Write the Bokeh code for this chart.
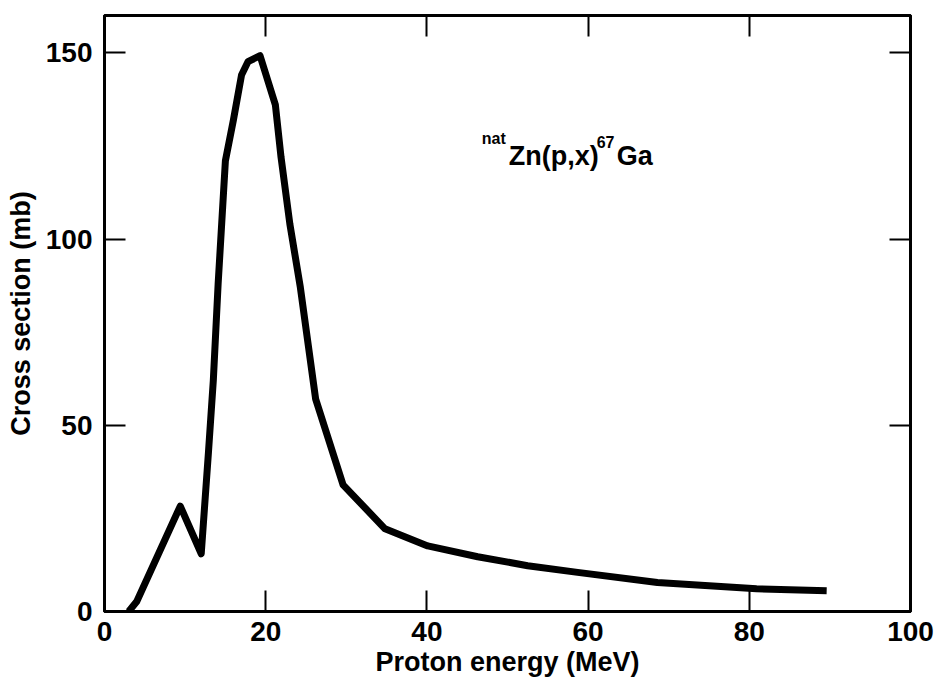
from bokeh.plotting import figure
from bokeh.models import Range1d, LinearAxis, FixedTicker, CustomJSTickFormatter, Label
from bokeh.embed import file_html
from bokeh.resources import INLINE

# Data
energy = [3.0, 4.0, 9.4, 12.0, 12.9, 13.5, 14.1, 15.0, 16.0, 17.0, 17.8, 19.3, 21.2,
          21.9, 23.0, 24.3, 26.2, 29.6, 34.8, 40.1, 46.3, 52.5, 58.7, 68.6, 80.9, 89.6]
cross_section = [0.0, 2.7, 28.3, 15.5, 42.8, 62.0, 88.0, 121.0, 132.0, 144.0, 147.6, 149.2, 136.0,
                 122.0, 104.0, 87.0, 57.0, 34.0, 22.2, 17.6, 14.7, 12.3, 10.5, 7.8, 6.1, 5.6]
x_ticks = [0, 20, 40, 60, 80, 100]
y_ticks = [0, 50, 100, 150]

FONT = "Liberation Sans"

p = figure(width=940, height=688, output_backend="svg", toolbar_location=None,
           x_range=Range1d(0, 100), y_range=Range1d(0, 160),
           min_border_left=104, min_border_right=30, min_border_top=15, min_border_bottom=77)
p.grid.visible = False
p.outline_line_color = "black"
p.outline_line_width = 3
p.background_fill_color = "white"
p.border_fill_color = "white"

p.line(energy, cross_section, line_width=7, color="black", line_join="round")

def style_axis(ax, ticks, labels=True):
    ax.ticker = FixedTicker(ticks=ticks)
    ax.major_tick_in = 21
    ax.major_tick_out = 0
    ax.minor_tick_in = 0
    ax.minor_tick_out = 0
    ax.major_tick_line_width = 2
    ax.major_tick_line_color = "black"
    ax.axis_line_width = 3
    ax.axis_line_color = "black"
    if labels:
        ax.major_label_text_font = FONT
        ax.major_label_text_font_style = "bold"
        ax.major_label_text_font_size = "28px"
        ax.major_label_text_color = "black"
        ax.axis_label_text_font = FONT
        ax.axis_label_text_font_style = "bold"
        ax.axis_label_text_font_size = "27px"
        ax.axis_label_text_color = "black"
    else:
        ax.formatter = CustomJSTickFormatter(code="return ''")
        ax.major_label_standoff = 0

xa = p.xaxis[0]
style_axis(xa, x_ticks)
xa.axis_label = "Proton energy (MeV)"
xa.major_label_standoff = 10
xa.axis_label_standoff = 3

ya = p.yaxis[0]
style_axis(ya, y_ticks)
ya.axis_label = "Cross section (mb)"
ya.major_label_standoff = 12
ya.axis_label_standoff = 7

top = LinearAxis()
style_axis(top, x_ticks, labels=False)
p.add_layout(top, "above")
right = LinearAxis()
style_axis(right, y_ticks, labels=False)
p.add_layout(right, "right")

# Annotation: natZn(p,x)67Ga
ax_x, ax_y = 46.8, 122.4
pieces = [("nat", 0, 17, "16px"), ("Zn(p,x)", 27, 0, "27px"), ("67", 115, 14, "16px"), ("Ga", 135, 0, "27px")]
for txt, xo, yo, fs in pieces:
    p.add_layout(Label(x=ax_x, y=ax_y, x_offset=xo, y_offset=yo, text=txt,
                       text_font=FONT, text_font_style="bold", text_font_size=fs,
                       text_color="black", text_baseline="alphabetic", text_align="left"))

open("out.html", "w").write(file_html(p, INLINE))
